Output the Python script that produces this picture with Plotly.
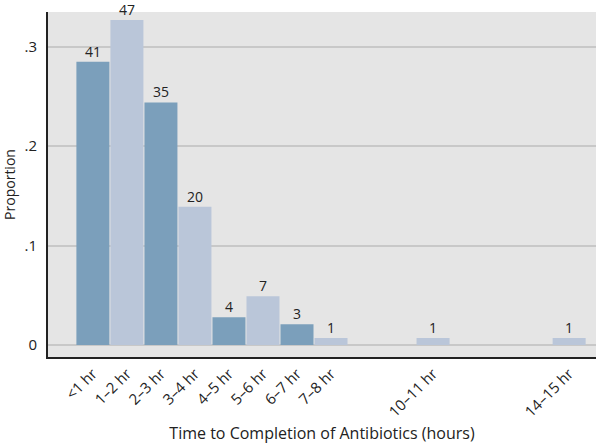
import plotly.graph_objects as go

# bins that have at least one patient (hour bin start)
bin_start = [0, 1, 2, 3, 4, 5, 6, 7, 10, 14]
bin_labels = ["<1 hr", "1–2 hr", "2–3 hr", "3–4 hr", "4–5 hr", "5–6 hr",
              "6–7 hr", "7–8 hr", "10–11 hr", "14–15 hr"]
counts = [41, 47, 35, 20, 4, 7, 3, 1, 1, 1]
proportion = [0.285, 0.327, 0.244, 0.139, 0.028, 0.049, 0.021, 0.007, 0.007, 0.007]

dark = "#7b9fbb"
light = "#bac6d9"
bar_colors = [dark, light, dark, light, dark, light, dark, light, light, light]

fig = go.Figure()

fig.add_trace(go.Bar(
    x=bin_start,
    y=proportion,
    width=0.97,
    marker=dict(color=bar_colors, line=dict(width=0)),
    hoverinfo="skip",
))

# count labels above each bar
for xb, yb, n in zip(bin_start, proportion, counts):
    fig.add_annotation(
        x=xb, y=yb, text=str(n),
        showarrow=False, yanchor="bottom", yshift=-1,
        font=dict(size=14, color="#222222"),
    )

fig.update_layout(
    width=602, height=444,
    margin=dict(l=48, r=6, t=12, b=87),
    paper_bgcolor="white",
    plot_bgcolor="#e5e5e5",
    font=dict(family="Open Sans, Noto Sans, sans-serif", size=13, color="#222222"),
    showlegend=False,
    xaxis=dict(
        range=[-1.32, 14.79],
        tickvals=bin_start,
        ticktext=bin_labels,
        tickangle=-45,
        showgrid=False,
        zeroline=False,
        showline=True,
        linecolor="#222222",
        linewidth=2,
        ticks="",
        automargin=False,
        tickfont=dict(size=15),
        title=dict(text="Time to Completion of Antibiotics (hours)", font=dict(size=16), standoff=10),
    ),
    yaxis=dict(
        range=[-0.012, 0.335],
        tickvals=[0, 0.1, 0.2, 0.3],
        ticktext=["0", ".1", ".2", ".3"],
        showgrid=True,
        gridcolor="#c8c8c8",
        gridwidth=2,
        zeroline=False,
        showline=True,
        linecolor="#222222",
        linewidth=2,
        ticks="",
        automargin=False,
        ticklabelstandoff=6,
        tickfont=dict(size=15),
        title=dict(text="Proportion", font=dict(size=14), standoff=8),
    ),
)

# drop the page's default body margin so the figure sits at the window corner
fig.write_html("out.html", config={"displayModeBar": False},
               post_script="document.body.style.margin='0';")
